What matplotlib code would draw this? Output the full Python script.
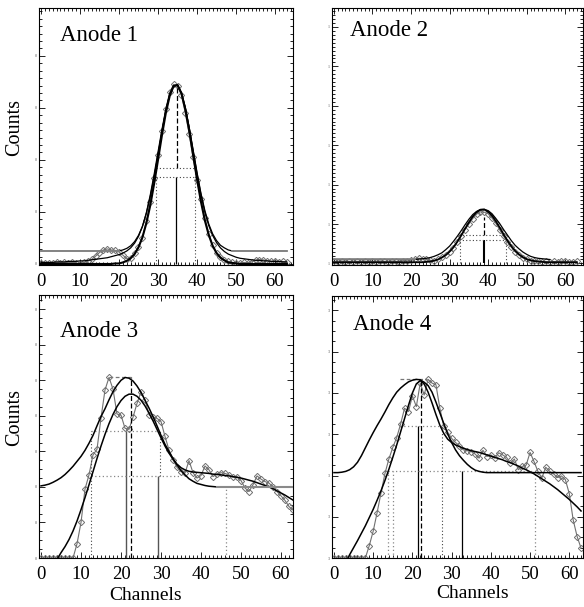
import numpy as np
import matplotlib.pyplot as plt
from matplotlib.ticker import MultipleLocator, AutoMinorLocator

plt.rcParams['font.family'] = ['Liberation Serif', 'DejaVu Serif']

chan = np.arange(64)
xtick_vals = [0, 10, 20, 30, 40, 50, 60]
xtick_text = ['0', '10', '20', '30', '40', '50', '60']

# ---------------- Anode 1 ----------------
a1_counts = [0.02, 0.01, 0.02, 0.02, 0.03, 0.02, 0.03, 0.02, 0.03, 0.02,
             0.00, 0.03, 0.05, 0.09, 0.15, 0.22, 0.27, 0.29, 0.27, 0.26,
             0.23, 0.17, 0.10, 0.12, 0.21, 0.33, 0.50, 0.82, 1.20, 1.66,
             2.10, 2.55, 2.98, 3.30, 3.45, 3.42, 3.25, 2.90, 2.50, 2.05,
             1.62, 1.25, 0.88, 0.58, 0.36, 0.22, 0.14, 0.08, 0.05, 0.03,
             0.02, 0.01, 0.03, 0.02, 0.04, 0.07, 0.08, 0.08, 0.06, 0.05,
             0.06, 0.04, 0.05, 0.03]
a1_gauss = [0.0] * 18 + [0.00, 0.01,
            0.01, 0.03, 0.06, 0.11, 0.19, 0.32, 0.51, 0.78, 1.12, 1.54,
            2.00, 2.47, 2.90, 3.23, 3.42, 3.44, 3.28, 2.97, 2.56, 2.09,
            1.63, 1.20, 0.84, 0.56, 0.35, 0.21, 0.12, 0.07, 0.03, 0.02,
            0.01] + [0.0] * 13
a1_tail = [0.03, 0.03, 0.03, 0.03, 0.04, 0.04, 0.04, 0.05, 0.05, 0.05,
           0.06, 0.06, 0.07, 0.08, 0.09, 0.10, 0.11, 0.12, 0.14, 0.16,
           0.18, 0.21, 0.25, 0.31, 0.40, 0.53, 0.72, 0.98, 1.32, 1.72,
           2.15, 2.58, 2.97, 3.27, 3.43, 3.44, 3.29, 3.00, 2.62, 2.18,
           1.74, 1.34, 1.00, 0.74, 0.55, 0.41, 0.31, 0.24, 0.19, 0.16,
           0.13, 0.11, 0.10, 0.09, 0.08, 0.07, 0.07, 0.06, 0.06, 0.05,
           0.05, 0.05, 0.04, 0.04]
a1_bg = 0.25
a1_bgfit = [0.25] * 21 + [0.27, 0.30, 0.35, 0.43, 0.55, 0.72, 0.97, 1.29, 1.67,
                          2.10, 2.54, 2.94, 3.25, 3.42, 3.44, 3.29, 3.01, 2.62, 2.19,
                          1.76, 1.36, 1.03, 0.77, 0.58, 0.45, 0.36, 0.31, 0.27] + [0.25] * 15
a1_centre, a1_peak = 34.6, 3.45
a1_lo, a1_hi = 29.5, 39.6
a1_lev = (1.68, 1.85)

# ---------------- Anode 2 ----------------
a2_counts = [0.05, 0.03, 0.06, 0.04, 0.05, 0.03, 0.05, 0.04, 0.06, 0.03,
             0.05, 0.04, 0.06, 0.05, 0.03, 0.06, 0.05, 0.04, 0.07, 0.06,
             0.09, 0.11, 0.13, 0.12, 0.10, 0.08, 0.06, 0.10, 0.16, 0.22,
             0.30, 0.40, 0.55, 0.70, 0.86, 1.00, 1.14, 1.25, 1.31, 1.30,
             1.26, 1.15, 1.02, 0.85, 0.69, 0.54, 0.41, 0.30, 0.21, 0.14,
             0.10, 0.07, 0.05, 0.06, 0.04, 0.05, 0.03, 0.05, 0.04, 0.06,
             0.05, 0.03, 0.04, 0.05]
a2_gauss = [0.03] * 24 + [0.04, 0.05, 0.07, 0.10, 0.15, 0.21, 0.30, 0.41, 0.55, 0.71,
                          0.88, 1.04, 1.19, 1.30, 1.36, 1.37, 1.31, 1.21, 1.07, 0.91,
                          0.74, 0.58, 0.44, 0.32, 0.23, 0.16, 0.11, 0.08, 0.06, 0.05,
                          0.04] + [0.03] * 9
a2_bg = 0.10
a2_bgfit = [0.10] * 22 + [0.11, 0.12, 0.13, 0.15, 0.18, 0.22, 0.27, 0.35, 0.44, 0.56,
                          0.69, 0.83, 0.98, 1.12, 1.24, 1.32, 1.37, 1.37, 1.34, 1.26,
                          1.14, 1.01, 0.86, 0.72, 0.58, 0.46, 0.37, 0.29, 0.23, 0.18,
                          0.15, 0.13, 0.12, 0.11, 0.10] + [None] * 7
a2_centre, a2_peak = 38.8, 1.34
a2_lo, a2_hi = 32.6, 44.5
a2_lev = (0.59, 0.72)

# ---------------- Anode 3 ----------------
a3_counts = [0.0] * 9 + [0.40, 1.00, 1.94, 2.34, 2.90, 3.06, 3.94, 4.73, 5.08,
                         4.75, 4.05, 4.02, 3.65, 3.62, 3.96, 4.35, 4.68, 4.45, 4.03,
                         3.97, 3.93, 3.84, 3.42, 3.04, 2.76, 2.55, 2.43, 2.39, 2.74,
                         2.40, 2.25, 2.32, 2.59, 2.48, 2.29, 2.37, 2.40, 2.38, 2.34,
                         2.27, 2.29, 2.18, 1.97, 1.87, 2.06, 2.31, 2.22, 2.15, 2.11,
                         1.99, 1.87, 1.75, 1.62, 1.45, 1.35]
a3_bg = 2.00
a3_wide = [2.03, 2.05, 2.08, 2.13, 2.19, 2.26, 2.35, 2.46, 2.58, 2.72,
           2.86, 3.03, 3.23, 3.45, 3.72, 3.98, 4.20, 4.45, 4.68, 4.86,
           5.00, 5.08, 5.06, 4.98, 4.84, 4.66, 4.44, 4.22, 3.98, 3.72,
           3.45, 3.20, 3.00, 2.80, 2.62, 2.46, 2.34, 2.23, 2.16, 2.10,
           2.07, 2.04, 2.02, 2.01] + [2.00] * 20
a3_shape = [-0.90, -0.68, -0.46, -0.24, -0.04, 0.15, 0.32, 0.52, 0.76, 1.04,
            1.36, 1.70, 2.06, 2.43, 2.80, 3.15, 3.48, 3.78, 4.04, 4.26,
            4.43, 4.55, 4.61, 4.61, 4.55, 4.44, 4.28, 4.08, 3.86, 3.62,
            3.38, 3.15, 2.95, 2.78, 2.64, 2.54, 2.48, 2.44, 2.42, 2.41,
            2.40, 2.39, 2.38, 2.36, 2.35, 2.34, 2.32, 2.31, 2.29, 2.27,
            2.25, 2.22, 2.19, 2.16, 2.12, 2.08, 2.04, 2.00, 1.95, 1.89,
            1.83, 1.77, 1.70, 1.63]
a3_centre, a3_dash, a3_peak = 21.2, 22.4, 5.08
a3_top = (17.0, 22.5)
a3_lev = (2.31, 3.56)
a3_lo, a3_hi, a3_hi2, a3_far = 12.4, 29.8, 29.2, 46.2

# ---------------- Anode 4 ----------------
a4_counts = [0.0] * 9 + [0.30, 0.65, 1.10, 1.58, 2.05, 2.40, 2.68, 2.92, 3.25, 3.63,
                         3.55, 3.93, 3.67, 4.24, 3.95, 4.33, 4.24, 4.20, 3.63, 3.19,
                         3.05, 2.90, 2.80, 2.72, 2.62, 2.60, 2.58, 2.52, 2.42, 2.61,
                         2.46, 2.50, 2.42, 2.55, 2.50, 2.44, 2.30, 2.40, 2.14, 2.22,
                         2.25, 2.56, 2.34, 2.10, 1.94, 2.20, 2.10, 2.04, 1.95, 1.99,
                         1.90, 1.56, 0.92, 0.52, 0.24]
a4_bg = 2.07
a4_wide = [2.07, 2.07, 2.08, 2.10, 2.14, 2.21, 2.32, 2.48, 2.67, 2.86,
           3.04, 3.21, 3.37, 3.54, 3.72, 3.88, 4.02, 4.12, 4.20, 4.27,
           4.31, 4.33, 4.32, 4.26, 4.18, 4.02, 3.78, 3.52, 3.26, 3.01,
           2.80, 2.62, 2.48, 2.37, 2.27, 2.19, 2.13, 2.10, 2.08] + [2.07] * 25
a4_shape = [-0.62, -0.44, -0.27, -0.10, 0.08, 0.25, 0.42, 0.60, 0.78, 0.98,
            1.18, 1.40, 1.63, 1.88, 2.15, 2.44, 2.74, 3.06, 3.38, 3.70,
            4.00, 4.22, 4.30, 4.22, 4.02, 3.76, 3.48, 3.22, 3.02, 2.88,
            2.80, 2.74, 2.70, 2.66, 2.63, 2.60, 2.58, 2.56, 2.53, 2.50,
            2.47, 2.44, 2.41, 2.38, 2.34, 2.31, 2.27, 2.23, 2.18, 2.14,
            2.09, 2.04, 1.98, 1.92, 1.86, 1.80, 1.73, 1.66, 1.58, 1.50,
            1.42, 1.33, 1.24, 1.14]
a4_centre, a4_dash, a4_peak = 21.3, 22.1, 4.33
a4_top = (16.8, 23.7)
a4_lev = (2.11, 3.20)
a4_lo, a4_lo2, a4_hi, a4_hi2, a4_far = 13.9, 15.1, 27.5, 32.6, 51.3


def frame(ax, xmax, ylim, ylabels, nminor):
    ax.set_xlim(-0.5, xmax)
    ax.set_ylim(*ylim)
    ax.set_xticks(xtick_vals)
    ax.set_xticklabels(xtick_text)
    ax.xaxis.set_minor_locator(MultipleLocator(1))
    ax.set_yticks(range(len(ylabels)))
    ax.set_yticklabels(ylabels)
    ax.yaxis.set_minor_locator(AutoMinorLocator(nminor))
    ax.tick_params(which='both', direction='in', top=True, right=True, width=0.6)
    ax.tick_params(which='major', length=4)
    ax.tick_params(which='minor', length=2)
    ax.tick_params(axis='x', labelsize=13.5, pad=6)
    ax.tick_params(axis='y', labelsize=3, pad=1.5, labelcolor='#555555')
    for s in ax.spines.values():
        s.set_linewidth(0.8)


def points(ax, y):
    ax.plot(chan, y, '-', color='#707070', lw=0.8, marker='D', ms=3.2,
            mfc='none', mec='#707070', mew=0.7, zorder=2)


def fit(ax, y, lw, bg=None):
    y = np.array(y, dtype=float)
    ax.plot(chan, y, color='black', lw=lw, zorder=3)
    if bg is not None:
        ax.plot(chan, np.where(np.isclose(y, bg), y, np.nan), color='#8a8a8a',
                lw=lw + 0.4, zorder=3.5)


dot = dict(color='#444444', lw=0.8, linestyles=(0, (1, 2)))
gdot = dict(color='#888888', lw=0.9, linestyles=(0, (1, 2)))
dash = dict(color='black', lw=0.9, linestyles=(0, (4, 2)))

fig = plt.figure(figsize=(5.84, 6.07), dpi=100)
ax1 = fig.add_axes([0.0668, 0.5634, 0.4349, 0.4234])
ax2 = fig.add_axes([0.5685, 0.5634, 0.4298, 0.4234])
ax3 = fig.add_axes([0.0668, 0.0807, 0.4349, 0.4333])
ax4 = fig.add_axes([0.5685, 0.0807, 0.4298, 0.4316])

# Anode 1
frame(ax1, 64.6, (-0.02, 4.92), ['0'] * 5, 7)
points(ax1, a1_counts)
fit(ax1, a1_tail, 0.9)
fit(ax1, a1_bgfit, 0.9, a1_bg)
fit(ax1, a1_gauss, 1.5)
ax1.vlines(a1_centre, 0, a1_lev[0], color='black', lw=0.9)
ax1.vlines(a1_centre + 0.2, a1_lev[1], a1_peak, **dash)
ax1.hlines(a1_lev, a1_lo, a1_hi + 0.2, **dot)
ax1.vlines(a1_lo, 0, a1_lev[0], **dot)
ax1.vlines(a1_hi, 0, a1_lev[1], **dot)
ax1.text(0.083, 0.87, 'Anode 1', transform=ax1.transAxes, fontsize=16.5, va='baseline')

# Anode 2
frame(ax2, 64.6, (-0.04, 6.48), ['1'] * 7, 10)
points(ax2, a2_counts)
fit(ax2, a2_bgfit, 0.9, a2_bg)
fit(ax2, a2_gauss, 1.3)
ax2.vlines(a2_centre, 0, a2_lev[0], color='black', lw=1.5)
ax2.vlines(a2_centre, a2_lev[1], a2_peak - 0.15, **dash)
ax2.hlines(a2_lev, a2_lo - 0.2, a2_hi, **dot)
ax2.vlines(a2_lo, 0, a2_lev[1], **dot)
ax2.vlines(a2_hi, 0, a2_lev[0], **dot)
ax2.text(0.072, 0.891, 'Anode 2', transform=ax2.transAxes, fontsize=16.5, va='baseline')

# Anode 3
frame(ax3, 63.0, (0, 7.4), ['0'] * 8, 4)
points(ax3, a3_counts)
fit(ax3, a3_shape, 1.1)
fit(ax3, a3_wide, 1.1, a3_bg)
ax3.vlines(a3_centre, 0, a3_lev[1], color='#555555', lw=1.0)
ax3.vlines(a3_dash, 0, a3_peak, **dash)
ax3.hlines(a3_peak, *a3_top, color='#777777', lw=0.9, linestyles=(0, (3, 2)))
ax3.hlines(a3_lev[1], a3_lo, a3_hi, **gdot)
ax3.hlines(a3_lev[0], a3_lo, 35.0, **gdot)
ax3.vlines(a3_lo, 0, a3_lev[1], **dot)
ax3.vlines(a3_hi, a3_lev[0], a3_lev[1], **dot)
ax3.vlines(a3_hi2, 0, a3_lev[0], color='#555555', lw=1.0)
ax3.vlines(a3_far, 0, a3_bg, **gdot)
ax3.text(0.083, 0.84, 'Anode 3', transform=ax3.transAxes, fontsize=16.5, va='baseline')

# Anode 4
frame(ax4, 63.5, (0, 6.35), ['3'] * 7, 4)
points(ax4, a4_counts)
fit(ax4, a4_shape, 1.1)
fit(ax4, a4_wide, 1.1)
ax4.vlines(a4_centre, 0, a4_lev[1], color='black', lw=0.9)
ax4.vlines(a4_dash, 0, a4_peak, **dash)
ax4.hlines(a4_peak, *a4_top, color='#777777', lw=0.9, linestyles=(0, (3, 2)))
ax4.hlines(a4_lev[1], a4_top[0], a4_hi - 0.4, **gdot)
ax4.hlines(a4_lev[0], a4_lo, a4_far - 0.6, **gdot)
ax4.vlines([a4_lo, a4_lo2], 0, a4_lev[0], **gdot)
ax4.vlines(a4_hi, 0, a4_lev[1], **dot)
ax4.vlines(a4_hi2, 0, a4_lev[0], color='black', lw=0.9)
ax4.vlines(a4_far, 0, a4_bg, **gdot)
ax4.text(0.084, 0.87, 'Anode 4', transform=ax4.transAxes, fontsize=16.5, va='baseline')

fig.text(15 / 584, 1 - 128 / 607, 'Counts', rotation=90, ha='center', va='center', fontsize=14.5)
fig.text(15 / 584, 1 - 418 / 607, 'Counts', rotation=90, ha='center', va='center', fontsize=14.5)
fig.text(146 / 584, 1 - 596 / 607, 'Channels', ha='center', va='center', fontsize=14)
fig.text(473 / 584, 1 - 594 / 607, 'Channels', ha='center', va='center', fontsize=14)

fig.savefig('out.png', dpi=100)
